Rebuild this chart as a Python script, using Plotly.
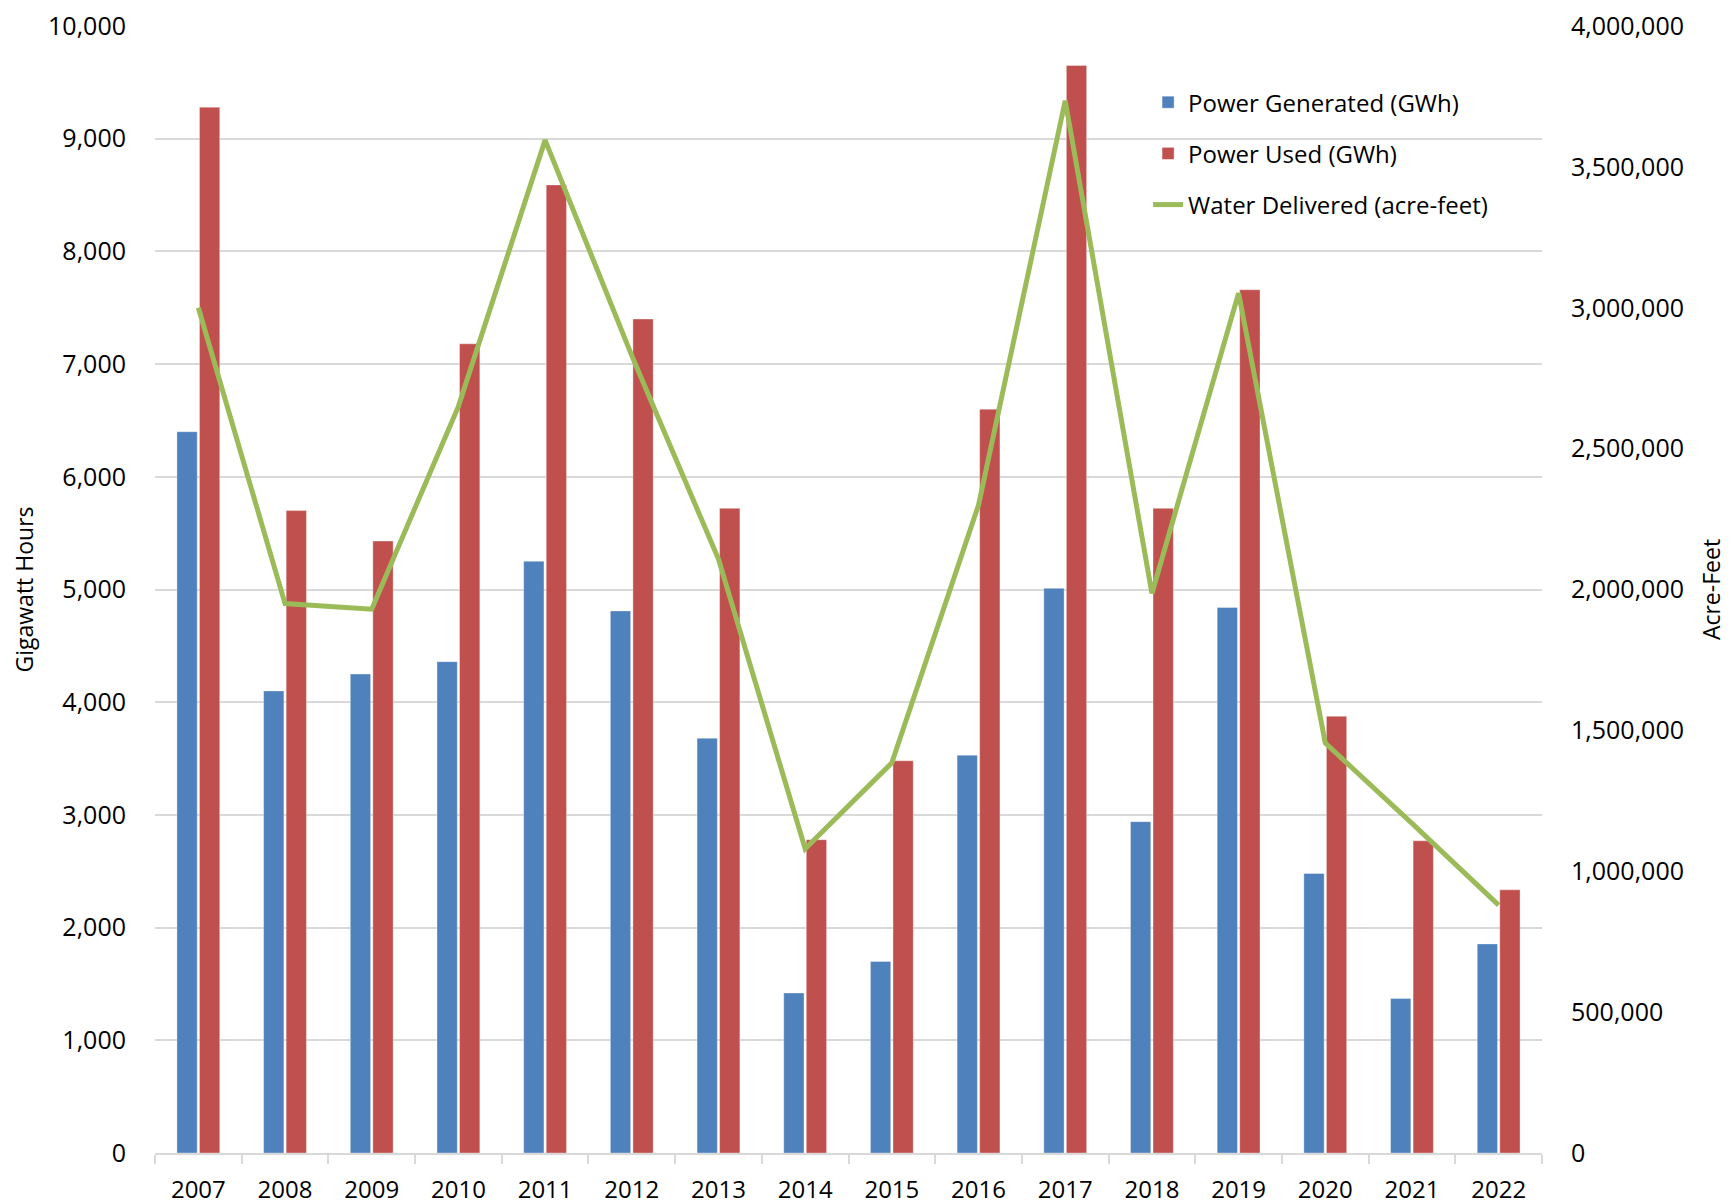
import plotly.graph_objects as go

years = ["2007", "2008", "2009", "2010", "2011", "2012", "2013", "2014",
         "2015", "2016", "2017", "2018", "2019", "2020", "2021", "2022"]
power_generated = [6400, 4100, 4250, 4360, 5250, 4810, 3680, 1420,
                   1700, 3530, 5010, 2940, 4840, 2480, 1370, 1855]
power_used = [9280, 5700, 5430, 7180, 8590, 7400, 5720, 2780,
              3480, 6600, 9650, 5720, 7660, 3875, 2770, 2335]
water_delivered = [3000000, 1950000, 1930000, 2650000, 3595000, 2830000, 2108000, 1080000,
                   1385000, 2300000, 3735000, 1986000, 3052000, 1455000, 1170000, 880000]

left_ticks = list(range(0, 10001, 1000))
right_ticks = list(range(0, 4000001, 500000))

FONT = "Open Sans, Noto Sans, sans-serif"
GRID = "#d9d9d9"

fig = go.Figure()
fig.add_trace(go.Bar(
    x=years, y=power_generated, name="Power Generated (GWh)",
    marker=dict(color="#4F81BD", line=dict(color="rgba(255,255,255,0.35)", width=1)),
    legendgroup="a", yaxis="y"))
fig.add_trace(go.Bar(
    x=years, y=power_used, name="Power Used (GWh)",
    marker=dict(color="#C0504D", line=dict(color="rgba(255,255,255,0.35)", width=1)),
    legendgroup="b", yaxis="y"))
fig.add_trace(go.Scatter(
    x=years, y=water_delivered, name="Water Delivered (acre-feet)",
    mode="lines", line=dict(color="#9BBB59", width=5),
    legendgroup="c", yaxis="y2"))

fig.update_layout(
    width=1723, height=1196,
    margin=dict(l=147, r=189, t=18, b=51, autoexpand=False),
    paper_bgcolor="white", plot_bgcolor="white",
    font=dict(family=FONT, size=25, color="#000000"),
    barmode="group", bargap=0.48, bargroupgap=0.1,
    showlegend=True,
    legend=dict(x=0.716, y=0.952, xanchor="left", yanchor="top",
                bgcolor="rgba(0,0,0,0)", font=dict(size=24),
                tracegroupgap=17, traceorder="grouped"),
    xaxis=dict(
        type="category", tickson="boundaries", ticks="outside", ticklen=9,
        tickcolor=GRID, tickwidth=1.5, showline=True, linecolor=GRID, linewidth=1.5,
        showgrid=False, tickfont=dict(size=24), ticklabelstandoff=14, automargin=False,
    ),
    yaxis=dict(
        range=[0, 10000], tickvals=left_ticks, tickformat=",d",
        showgrid=True, gridcolor=GRID, gridwidth=1.5, zeroline=False,
        showline=False, ticks="", tickfont=dict(size=25), ticklabelstandoff=28,
        ticklabeloverflow="allow",
        title=dict(text="Gigawatt Hours", font=dict(size=23), standoff=17),
        automargin=False,
    ),
    yaxis2=dict(
        range=[0, 4000000], tickvals=right_ticks, tickformat=",d",
        overlaying="y", side="right", showgrid=False, zeroline=False,
        showline=False, ticks="", tickfont=dict(size=25), ticklabelstandoff=28,
        ticklabeloverflow="allow",
        title=dict(text="Acre-Feet", font=dict(size=23), standoff=20),
        automargin=False,
    ),
)

fig.write_html("out.html")
